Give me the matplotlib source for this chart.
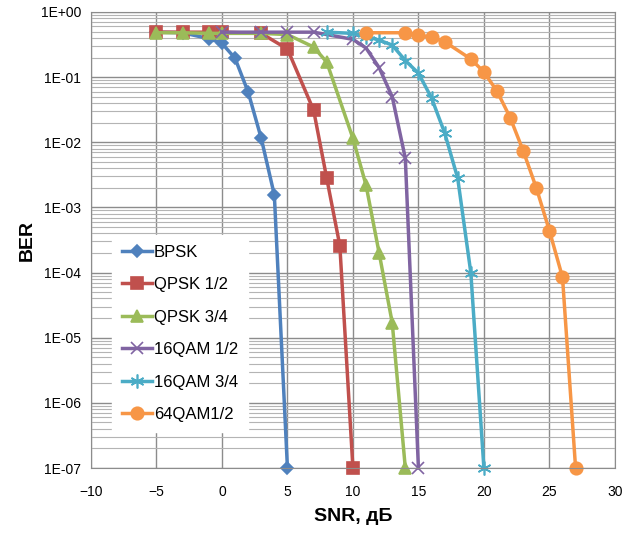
import numpy as np
import matplotlib.pyplot as plt
from matplotlib.ticker import FixedLocator, LogLocator, FuncFormatter

plt.rcParams['font.family'] = ['Liberation Sans Narrow', 'Liberation Sans', 'DejaVu Sans']

# BER curves
snr_bpsk = [-5, -3, -1, 0, 1, 2, 3, 4, 5]
ber_bpsk = [0.49, 0.48, 0.39, 0.33, 0.195, 0.059, 0.0115, 0.00155, 1e-7]

snr_qpsk12 = [-5, -3, -1, 0, 3, 5, 7, 8, 9, 10]
ber_qpsk12 = [0.49, 0.49, 0.49, 0.49, 0.47, 0.27, 0.031, 0.0028, 0.00026, 1e-7]

snr_qpsk34 = [-5, -3, -1, 0, 3, 5, 7, 8, 10, 11, 12, 13, 14]
ber_qpsk34 = [0.48, 0.48, 0.47, 0.47, 0.47, 0.45, 0.29, 0.17, 0.0115, 0.0022, 0.0002, 1.7e-5, 1e-7]

snr_16qam12 = [0, 3, 5, 7, 10, 11, 12, 13, 14, 15]
ber_16qam12 = [0.49, 0.49, 0.49, 0.49, 0.38, 0.28, 0.14, 0.05, 0.0057, 1e-7]

snr_16qam34 = [8, 10, 11, 12, 13, 14, 15, 16, 17, 18, 19, 20]
ber_16qam34 = [0.49, 0.47, 0.42, 0.37, 0.31, 0.18, 0.115, 0.048, 0.014, 0.0028, 1.0e-4, 1e-7]

snr_64qam12 = [11, 14, 15, 16, 17, 19, 20, 21, 22, 23, 24, 25, 26, 27]
ber_64qam12 = [0.48, 0.48, 0.44, 0.41, 0.35, 0.19, 0.12, 0.061, 0.024, 0.0074, 0.002, 0.00044, 8.5e-5, 1e-7]

series = [
    ('BPSK', snr_bpsk, ber_bpsk, '#4F81BD', 'D', 6),
    ('QPSK 1/2', snr_qpsk12, ber_qpsk12, '#C0504D', 's', 8),
    ('QPSK 3/4', snr_qpsk34, ber_qpsk34, '#9BBB59', '^', 8),
    ('16QAM 1/2', snr_16qam12, ber_16qam12, '#8064A2', 'x', 8),
    ('16QAM 3/4', snr_16qam34, ber_16qam34, '#4BACC6', (6, 2, 0), 10),
    ('64QAM1/2', snr_64qam12, ber_64qam12, '#F79646', 'o', 9),
]

fig = plt.figure(figsize=(6.3, 5.35), dpi=100)
ax = fig.add_axes([0.1444, 0.1252, 0.8316, 0.8524])

for name, x, y, col, mk, ms in series:
    ax.plot(x, y, color=col, linewidth=2.5, marker=mk, markersize=ms,
            markeredgewidth=1.2, markeredgecolor=col, label=name, clip_on=False)

ax.set_yscale('log')
ax.set_xlim(-10, 30)
ax.set_ylim(1e-7, 1)
ax.set_xticks(np.arange(-10, 31, 5))
ax.yaxis.set_major_locator(FixedLocator([10.0**k for k in range(-7, 1)]))
ax.yaxis.set_minor_locator(LogLocator(base=10, subs=np.arange(2, 10), numticks=20))
ax.yaxis.set_major_formatter(FuncFormatter(lambda v, p: '1E%+03d' % int(round(np.log10(v)))))
ax.yaxis.set_minor_formatter(FuncFormatter(lambda v, p: ''))

ax.grid(True, which='major', color='#8c8c8c', linewidth=1.0)
ax.grid(True, which='minor', axis='y', color='#b4b4b4', linewidth=0.8)
ax.set_axisbelow(True)
ax.tick_params(which='both', length=0, labelsize=10)
ax.tick_params(axis='y', pad=7)
ax.tick_params(axis='x', pad=12)
for s in ax.spines.values():
    s.set_color('#8c8c8c')

ax.set_xlabel('SNR, дБ', fontsize=14, fontweight='bold', labelpad=7)
ax.set_ylabel('BER', fontsize=14, fontweight='bold', labelpad=4)

leg = ax.legend(loc='upper left', bbox_to_anchor=(0.025, 0.53), frameon=True,
                fancybox=False, edgecolor='white', framealpha=1, fontsize=12,
                labelspacing=1.05, handlelength=1.8, handletextpad=0.1,
                borderpad=0.6)

plt.savefig('out.png', dpi=100)
plt.close()
